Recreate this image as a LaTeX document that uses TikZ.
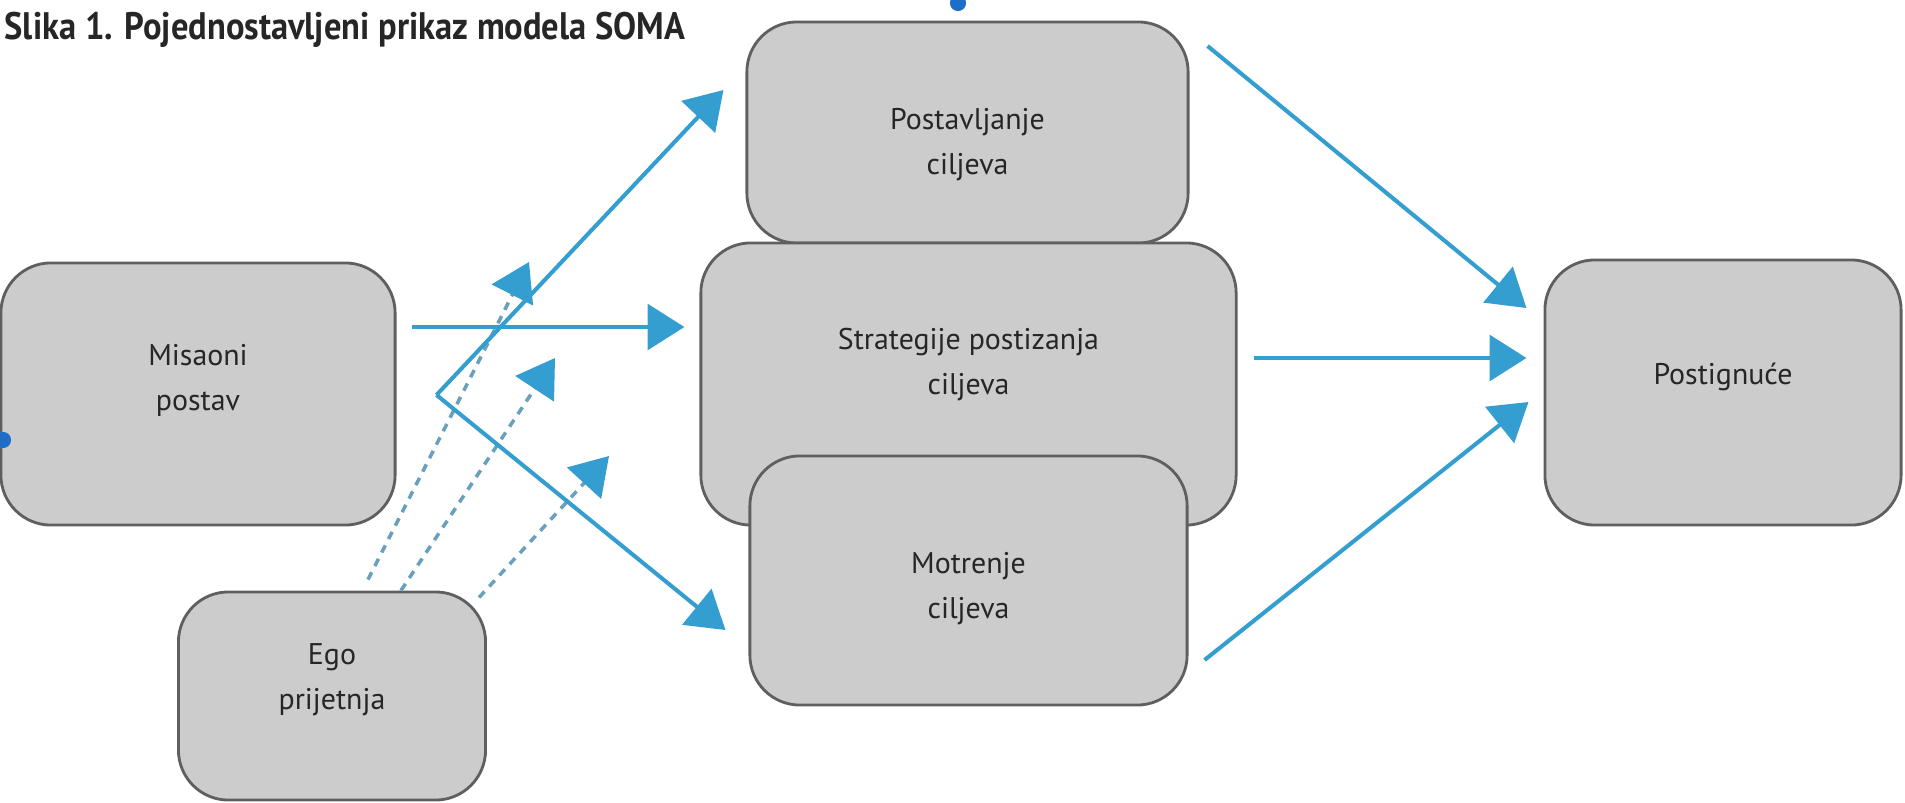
\documentclass[tikz,border=0pt]{standalone}
\usepackage{fontspec}
\setmainfont{PT Sans}
\newfontfamily\titlefont{PT Sans}[FakeStretch=0.9]
\usetikzlibrary{arrows.meta}

\definecolor{boxgray}{RGB}{204,204,204}
\definecolor{boxline}{RGB}{95,95,95}
\definecolor{arrowblue}{RGB}{52,158,208}
\definecolor{dashblue}{RGB}{105,160,190}
\definecolor{handleblue}{RGB}{30,110,200}

\begin{document}
\begin{tikzpicture}[x=0.01cm,y=0.01cm,
	box/.style={draw=boxline,line width=0.8pt,fill=boxgray,rounded corners=0.5cm,inner sep=0pt},
	txt/.style={align=center,text=black!85,font=\fontsize{8.5}{12.8}\selectfont},
	arrow/.style={arrowblue,line width=1.15pt,-{Triangle[length=10.5pt,width=13pt]}},
	dasharrow/.style={dashblue,line width=1pt,dash pattern=on 2.3pt off 2pt,
		-{Triangle[length=10.5pt,width=13pt,color=arrowblue]}}]

	\useasboundingbox (0,0) rectangle (1905,802);

	% title
	\node[anchor=base west,inner sep=0pt,text=black!85,
		font=\titlefont\bfseries\fontsize{10.9}{12}\selectfont] (title) at (4,762)
		{Slika 1. Pojednostavljeni prikaz modela SOMA};

	% boxes
	\node[box,minimum width=3.94cm,minimum height=2.62cm] (misaoni) at (198,408) {};
	\node[box,minimum width=3.07cm,minimum height=2.08cm] (ego) at (332,106) {};
	\node[box,minimum width=4.41cm,minimum height=2.21cm] (postavljanje) at (967.5,669.5) {};
	\node[box,minimum width=5.35cm,minimum height=2.82cm] (strategije) at (968.5,418) {};
	\node[box,minimum width=4.37cm,minimum height=2.49cm] (motrenje) at (968.5,221.5) {};
	\node[box,minimum width=3.56cm,minimum height=2.65cm] (postignuce) at (1723,409.5) {};

	% texts
	\node[txt] (misaoni-t) at ([shift={(0,14)}]misaoni.center) {Misaoni\\postav};
	\node[txt] (ego-t) at ([shift={(0,16)}]ego.center) {Ego\\prijetnja};
	\node[txt] (postavljanje-t) at ([shift={(0,-12)}]postavljanje.center) {Postavljanje\\ciljeva};
	\node[txt] (strategije-t) at ([shift={(0,19)}]strategije.center) {Strategije postizanja\\ciljeva};
	\node[txt] (motrenje-t) at ([shift={(0,-8)}]motrenje.center) {Motrenje\\ciljeva};
	\node[txt] (postignuce-t) at ([shift={(0,16)}]postignuce.center) {Postignuće};

	% dashed arrows from ego
	\coordinate (t1) at (529,540);
	\coordinate (t2) at (555,444);
	\coordinate (t3) at (609,346);
	\draw[dasharrow] ([shift={(36,11)}]ego.north) -- (t1);
	\draw[dasharrow] ([shift={(69,0)}]ego.north) -- (t2);
	\draw[dasharrow] ([shift={(147,-7)}]ego.north) -- (t3);

	% arrows
	\coordinate (split) at ([shift={(40,-1)}]misaoni.east);
	\draw[arrow] ([shift={(15,67)}]misaoni.east) -- ([shift={(-15,57)}]strategije.west);
	\draw[arrow] (split) -- ([shift={(-22,42.5)}]postavljanje.west);
	\draw[arrow] (split) -- ([shift={(-23,-49.5)}]motrenje.west);
	\draw[arrow] ([shift={(18,86.5)}]postavljanje.east) -- ([shift={(-17,84.5)}]postignuce.west);
	\draw[arrow] ([shift={(16,26)}]strategije.east) -- ([shift={(-17,34.5)}]postignuce.west);
	\draw[arrow] ([shift={(16,-79.5)}]motrenje.east) -- ([shift={(-15,-9.5)}]postignuce.west);

	% handles
	\fill[handleblue] (958,799) circle (2.3pt);
	\fill[handleblue] (3,362) circle (2.3pt);

\end{tikzpicture}
\end{document}
